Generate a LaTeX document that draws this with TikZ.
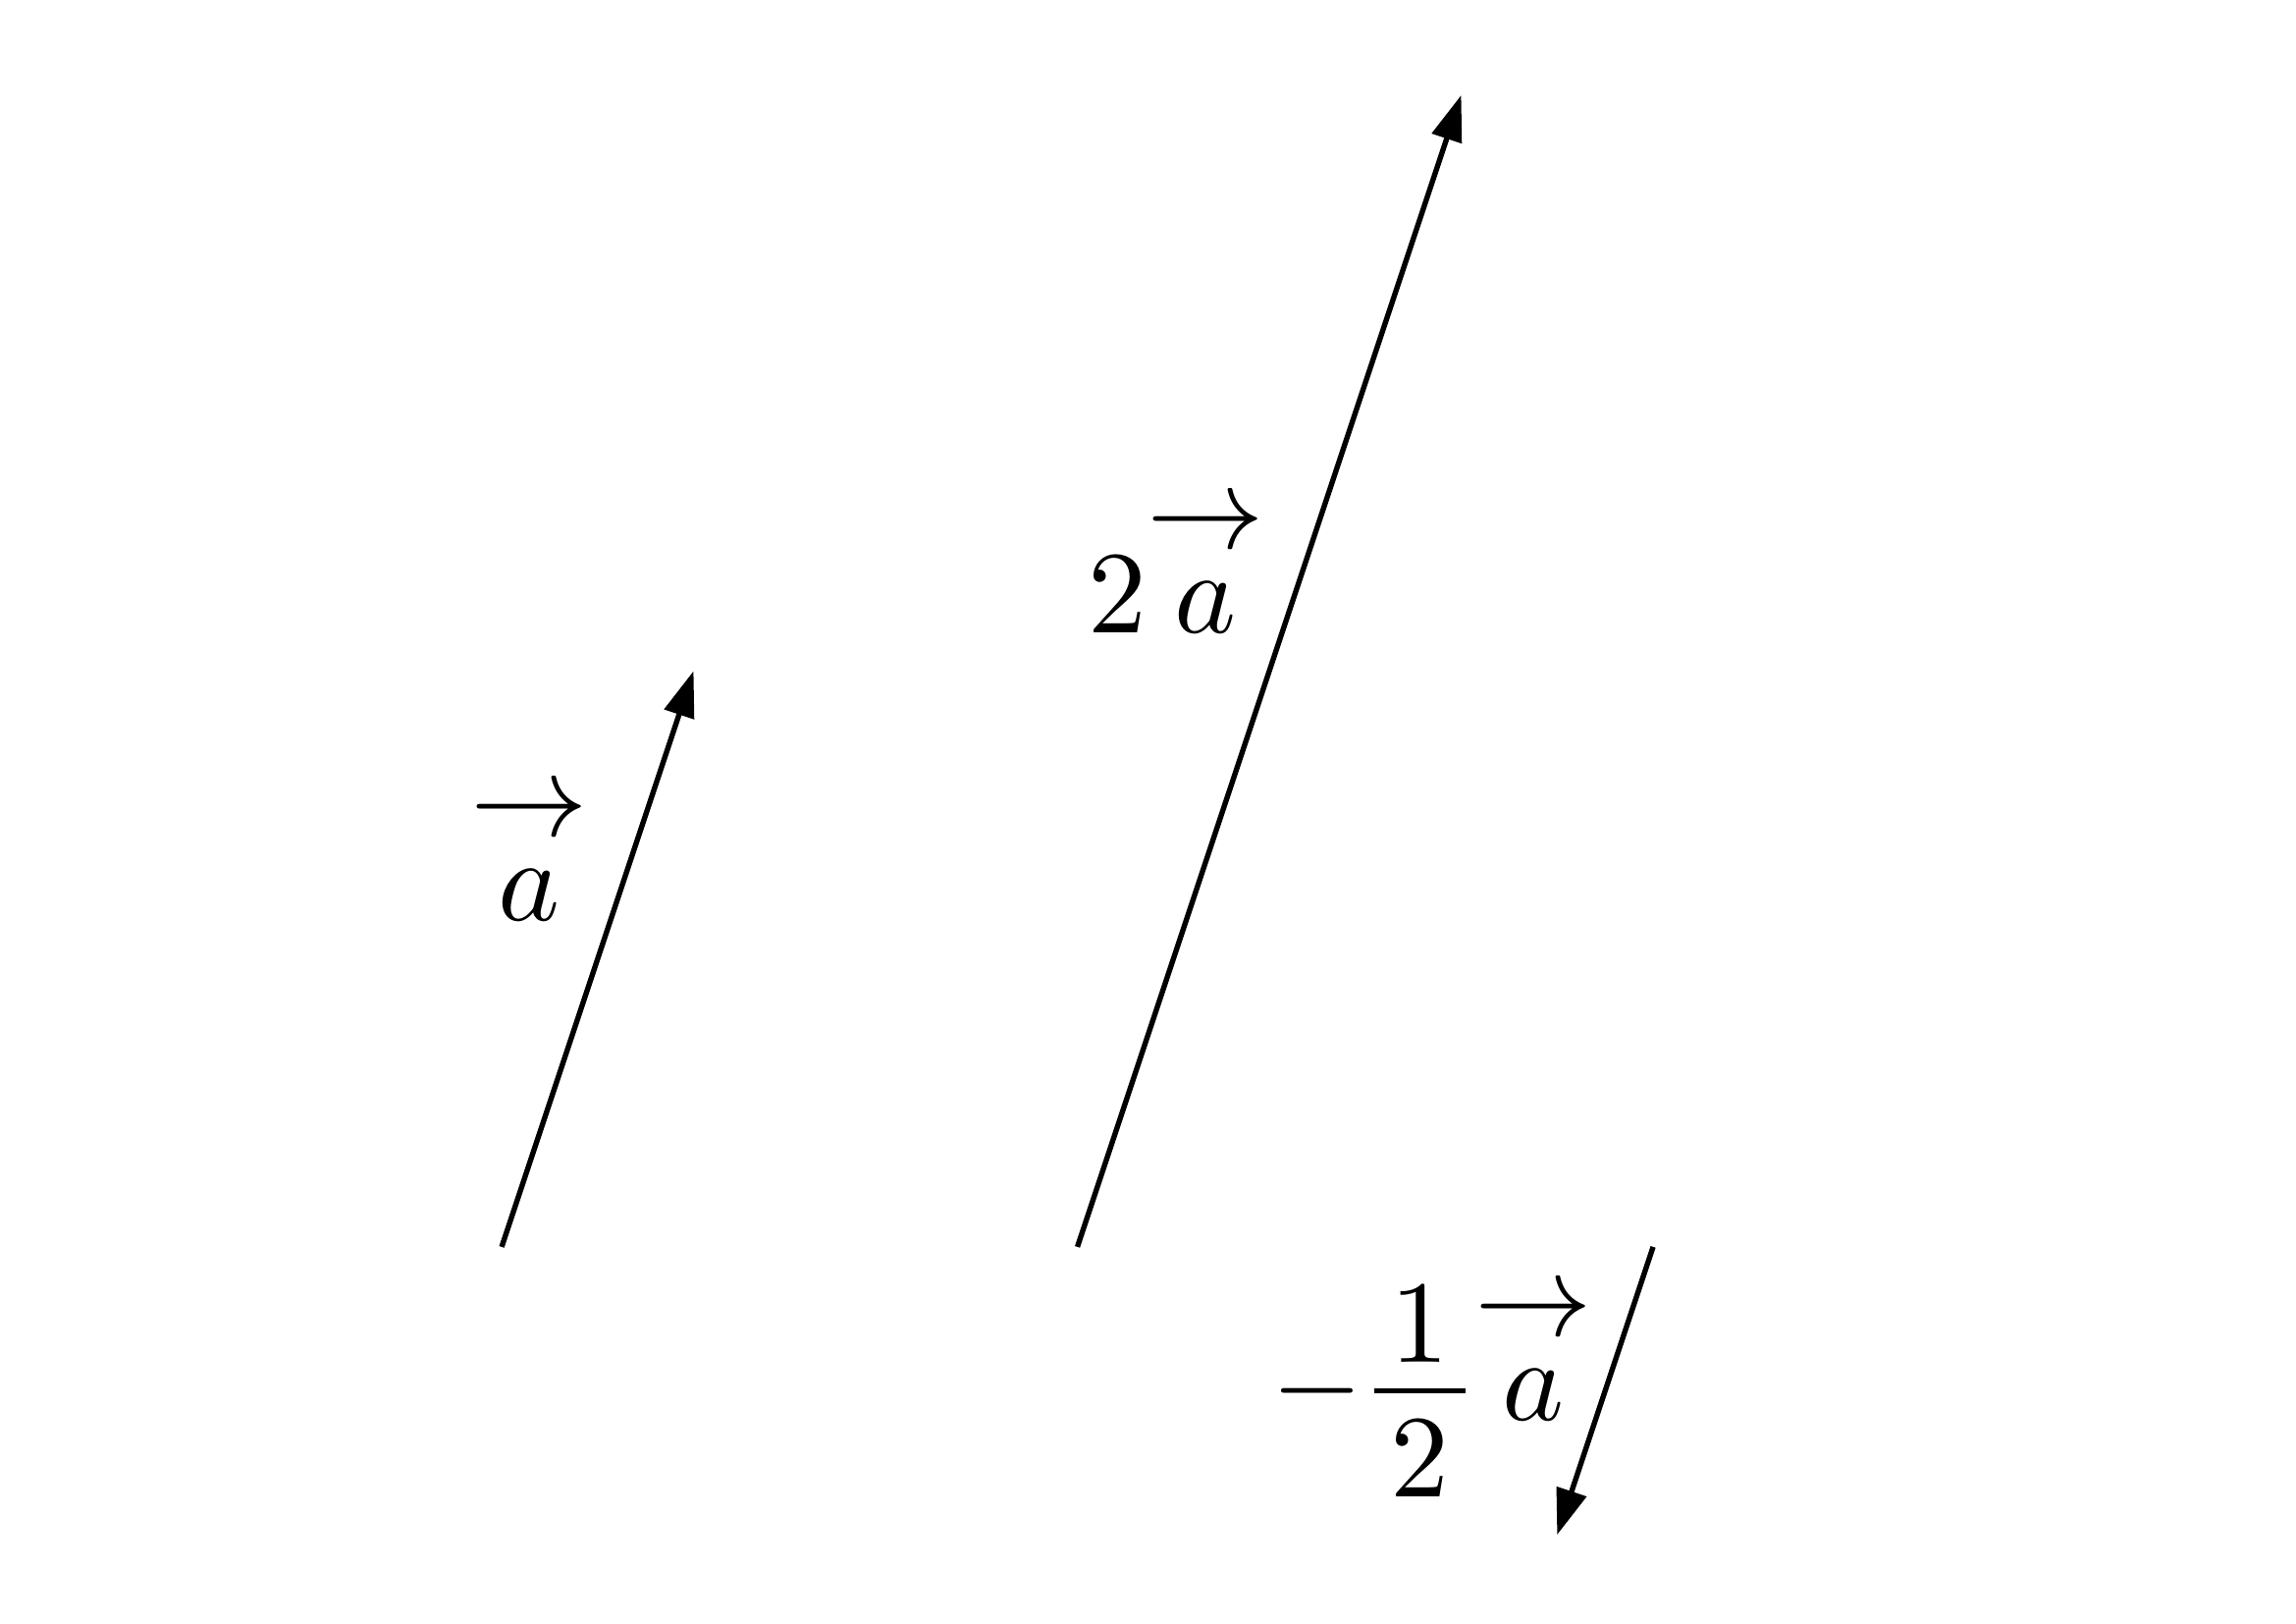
\documentclass[tikz,border=0pt]{standalone}
\usepackage{amsmath}
\usetikzlibrary{arrows.meta}
\newcommand{\arrowa}{\overset{\textstyle\rightarrow}{\rule{0pt}{5.2pt}a}}

\begin{document}
\begin{tikzpicture}[x=0.5748cm, y=0.5748cm,
    vec/.style={line width=0.45pt, -{Triangle[length=3.9pt,width=2.6pt]}}]
      \useasboundingbox (0,0) rectangle (11.964,8.460);
      % tails and tips
      \coordinate (a0) at (2.614,1.964);
      \coordinate (a1) at (3.614,4.964);
      \coordinate (b0) at (5.614,1.964);
      \coordinate (b1) at (7.614,7.964);
      \coordinate (c0) at (8.614,1.964);
      \coordinate (c1) at (8.114,0.464);
      \draw[vec] (a0) -- (a1);
      \draw[vec] (b0) -- (b1);
      \draw[vec] (c0) -- (c1);
      \node[anchor=base] (la) at (2.758,3.664) {$\arrowa$};
      \node[anchor=base] (ltwoa) at (6.131,5.163) {$2\arrowa$};
      \node[anchor=base] (lhalfa) at (7.462,1.063)
        {$-\mkern-0.5mu\dfrac{\raisebox{-1.9pt}{$\mkern2.5mu 1\mkern2.5mu$}}{\raisebox{0.3pt}{$2$}}\mkern-0.7mu\arrowa$};
    \end{tikzpicture}
\end{document}
